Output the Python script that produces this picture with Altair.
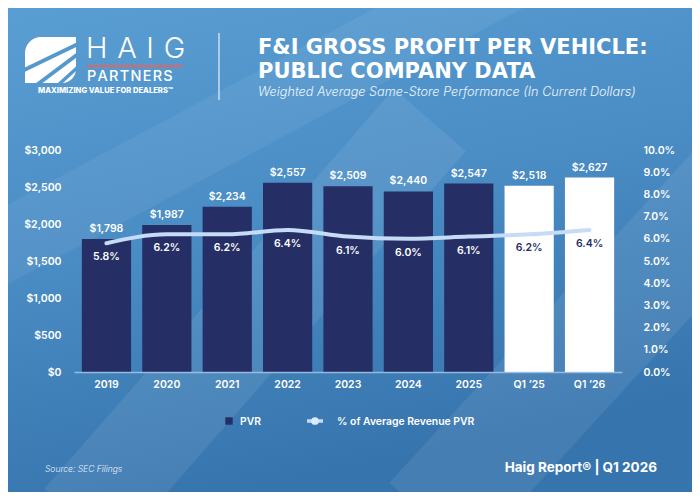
import altair as alt
import pandas as pd

# ---------------- data ----------------
categories = ["2019", "2020", "2021", "2022", "2023", "2024", "2025", "Q1 \u201925", "Q1 \u201926"]
pvr = [1798, 1987, 2234, 2557, 2509, 2440, 2547, 2518, 2627]
pct_revenue = [0.058, 0.062, 0.062, 0.064, 0.061, 0.060, 0.061, 0.062, 0.064]
period = ["Annual"] * 7 + ["Quarter"] * 2

df = pd.DataFrame({"cat": categories, "pvr": pvr, "pct": pct_revenue, "period": period})
dummy = pd.DataFrame({"d": [0]})

FONT = "Inter"
TITLE_FONT = "DejaVu Sans"
NAVY = "#252f65"
LINE = "#c6dcf6"
W, H = 548, 222
OX, OY = 74, 150  # page position of plot origin


def px(x):
    return alt.value(x - OX)


def py(y):
    return alt.value(y - OY)


def text(t, x, y, size, weight="normal", style="normal", color="white", align="left",
         baseline="middle", opacity=1, font=FONT):
    return alt.Chart(dummy).mark_text(
        font=font, fontSize=size, fontWeight=weight, fontStyle=style, color=color,
        align=align, baseline=baseline, opacity=opacity
    ).encode(x=px(x), y=py(y), text=alt.value(t))


def rule(x1, y1, x2, y2, color, width, opacity=1, cap="butt"):
    return alt.Chart(dummy).mark_rule(color=color, strokeWidth=width, opacity=opacity, strokeCap=cap).encode(
        x=px(x1), y=py(y1), x2=px(x2), y2=py(y2)
    )


# ---------------- background ----------------
bg = alt.Chart(dummy).mark_rect(
    color=alt.Gradient(
        gradient="linear", x1=0, y1=0, x2=0.3, y2=1,
        stops=[alt.GradientStop(color="#5a9fd4", offset=0),
               alt.GradientStop(color="#4a8cc4", offset=0.5),
               alt.GradientStop(color="#3674ad", offset=1)],
    )
).encode(x=px(0), x2=px(700), y=py(0), y2=py(500))

stripes = [
    rule(-40, 270, 520, -30, "white", 70, 0.06),
    rule(80, 520, 430, 120, "white", 95, 0.08),
    rule(430, 520, 760, 160, "white", 110, 0.08),
]

# ---------------- header ----------------
logo_box = alt.Chart(dummy).mark_rect(
    color="white", cornerRadiusTopLeft=16, cornerRadiusBottomRight=14
).encode(x=px(25), x2=px(76), y=py(37), y2=py(83))
logo_lines = [
    rule(22, 71, 78, 44, "#5599cc", 4),
    rule(34, 87, 78, 54, "#5599cc", 4),
    rule(56, 87, 78, 67, "#5599cc", 3.5),
]
header = [
    logo_box, *logo_lines,
    text("H\u2004A\u2004I\u2004G", 86, 49, 29, weight=300),
    rule(87, 66, 183, 66, "#e06666", 2),
    text("P\u200aA\u200aR\u200aT\u200aN\u200aE\u200aR\u200aS", 87, 77, 14.5, weight=500),
    text("MAXIMIZING VALUE FOR DEALERS\u2122", 38, 90.5, 7.6, weight=800),
    rule(219, 33, 219, 100, "#d6e6f5", 1.5, 0.9),
    text("F&I GROSS PROFIT PER VEHICLE:", 258, 48, 21, weight="bold", font=TITLE_FONT),
    text("PUBLIC COMPANY DATA", 258, 72, 21, weight="bold", font=TITLE_FONT),
    text("Weighted Average Same-Store Performance (In Current Dollars)", 258, 92, 12.7,
         weight=300, style="italic", color="#eef5fc"),
]

# ---------------- footer / legend ----------------
footer = [
    alt.Chart(dummy).mark_square(color=NAVY, size=55, opacity=1, filled=True).encode(x=px(229), y=py(421)),
    text("PVR", 240, 422, 10.3, weight=600),
    rule(307, 421, 323, 421, LINE, 3.5),
    alt.Chart(dummy).mark_circle(color="#dcebfb", size=60, opacity=1).encode(x=px(315), y=py(421)),
    text("% of Average Revenue PVR", 337, 422, 10.4, weight=600),
    text("Source: SEC Filings", 45, 469, 8.5, weight=300, style="italic", color="#e8f1fa"),
    text("Haig Report\u00ae | Q1 2026", 657, 468, 13.5, weight=700, align="right"),
]

# ---------------- data layers ----------------
x_enc = alt.X(
    "cat:N", sort=categories, title=None,
    scale=alt.Scale(paddingInner=0.185, paddingOuter=0.13),
    axis=alt.Axis(labelAngle=0, labelColor="white", labelFont=FONT, labelFontSize=10.5,
                  labelFontWeight=600, labelPadding=7, ticks=False, tickSize=0,
                  domainColor="#a9cbea", domainWidth=1.5, domainOpacity=0.8, zindex=1),
)

left_axis = alt.Axis(values=[0, 500, 1000, 1500, 2000, 2500, 3000], format="$,.0f", title=None,
                     labelColor="white", labelFont=FONT, labelFontSize=10.5, labelFontWeight=600,
                     labelPadding=13, ticks=False, tickSize=0, domain=False, grid=False, zindex=1)
right_axis = alt.Axis(values=[i / 100 for i in range(0, 11)], format=".1%", title=None, orient="right",
                      labelColor="white", labelFont=FONT, labelFontSize=10.5, labelFontWeight=600,
                      labelPadding=21, ticks=False, tickSize=0, domain=False, grid=False, zindex=1)

y_left = alt.Y("pvr:Q", scale=alt.Scale(domain=[0, 3000], nice=False), axis=left_axis)
y_right = alt.Y("pct:Q", scale=alt.Scale(domain=[0, 0.10], nice=False), axis=right_axis)

base = alt.Chart(df)
bars = base.mark_bar().encode(
    x=x_enc, y=y_left,
    color=alt.Color("period:N", scale=alt.Scale(domain=["Annual", "Quarter"], range=[NAVY, "#ffffff"]), legend=None),
)
bar_labels = base.mark_text(font=FONT, fontSize=10.5, fontWeight=600, color="white", baseline="bottom", dy=-5).encode(
    x=x_enc, y=y_left, text=alt.Text("pvr:Q", format="$,.0f")
)
bar_layer = alt.layer(bars, bar_labels)

line = base.mark_line(color=LINE, strokeWidth=4, interpolate="monotone", strokeCap="round").encode(x=x_enc, y=y_right)
pct_labels = base.mark_text(font=FONT, fontSize=10.5, fontWeight=600, baseline="middle", dy=14).encode(
    x=x_enc, y=y_right, text=alt.Text("pct:Q", format=".1%"),
    color=alt.Color("period:N", scale=alt.Scale(domain=["Annual", "Quarter"], range=["#ffffff", NAVY]), legend=None),
)
line_layer = alt.layer(line, pct_labels)

TOTAL_W, TOTAL_H = 684, 484
chart = alt.layer(
    bg, *stripes, *header, *footer, bar_layer, line_layer
).resolve_scale(y="independent", color="independent").properties(
    width=W, height=H,
    padding={"left": OX - 8, "top": OY - 8, "right": TOTAL_W - (OX - 8) - W, "bottom": TOTAL_H - (OY - 8) - H},
    autosize=alt.AutoSizeParams(type="none"),
    background="#4687c0",
).configure_view(stroke=None)

chart.save("out.html", embed_options={"renderer": "svg", "actions": False})
